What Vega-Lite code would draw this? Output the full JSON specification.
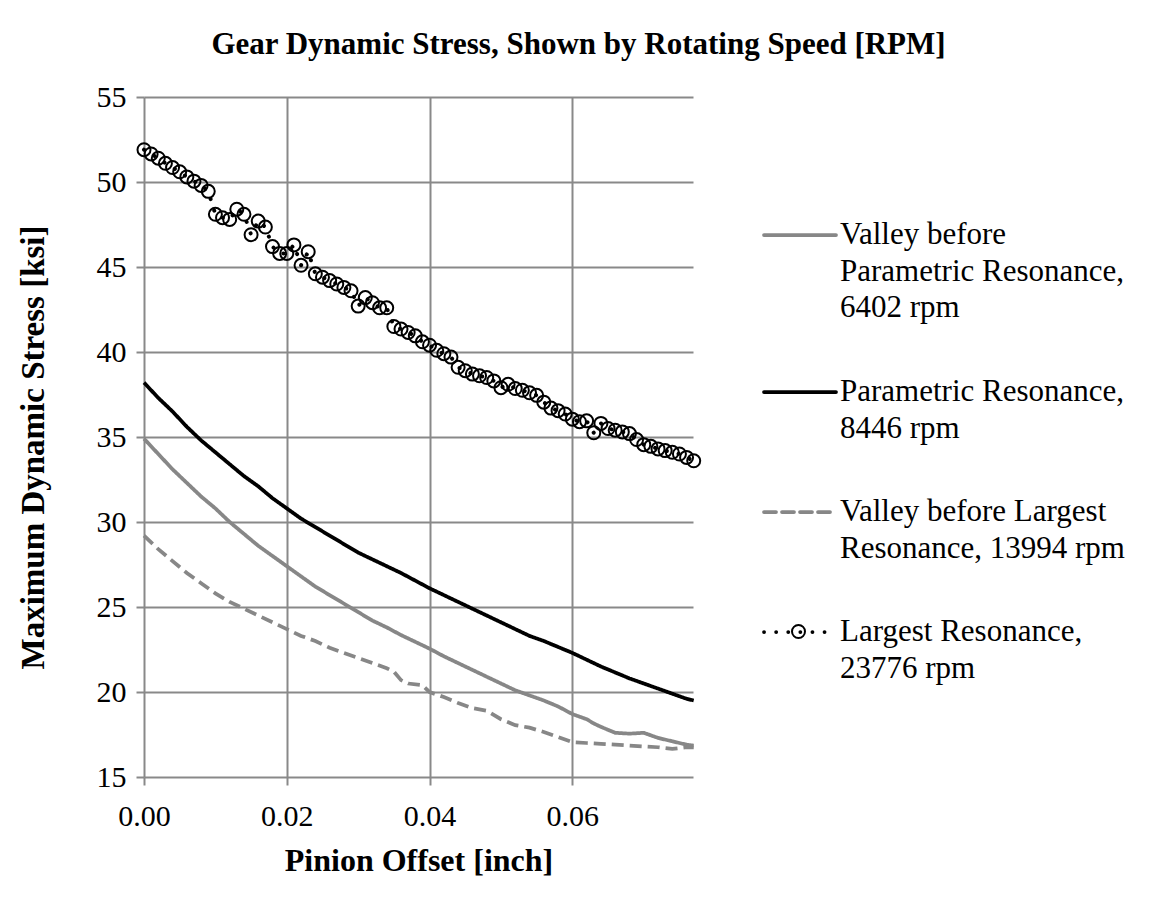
{
  "$schema": "https://vega.github.io/schema/vega-lite/v6.json",
  "autosize": "none",
  "width": 549,
  "height": 680,
  "padding": {"left": 144, "top": 97, "right": 461, "bottom": 130},
  "background": "white",
  "title": {
    "text": "Gear Dynamic Stress, Shown by Rotating Speed [RPM]",
    "font": "Liberation Serif",
    "fontSize": 31,
    "fontWeight": "bold",
    "color": "black",
    "anchor": "middle",
    "dx": 160,
    "offset": 21
  },
  "config": {
    "view": {"stroke": null},
    "axis": {
      "labelFont": "Liberation Serif",
      "labelFontSize": 30,
      "labelColor": "black",
      "titleFont": "Liberation Serif",
      "titleFontSize": 32,
      "titleFontWeight": "bold",
      "titleColor": "black",
      "gridColor": "#898989",
      "gridWidth": 2,
      "gridOpacity": 1,
      "tickColor": "#898989",
      "tickWidth": 2,
      "tickSize": 8,
      "domain": false
    }
  },
  "datasets": {
    "lines": [
      {"series": "Valley before Parametric Resonance, 6402 rpm", "x": 0.000, "y": 34.9},
      {"series": "Valley before Parametric Resonance, 6402 rpm", "x": 0.002, "y": 34.0},
      {"series": "Valley before Parametric Resonance, 6402 rpm", "x": 0.004, "y": 33.1},
      {"series": "Valley before Parametric Resonance, 6402 rpm", "x": 0.006, "y": 32.3},
      {"series": "Valley before Parametric Resonance, 6402 rpm", "x": 0.008, "y": 31.5},
      {"series": "Valley before Parametric Resonance, 6402 rpm", "x": 0.010, "y": 30.8},
      {"series": "Valley before Parametric Resonance, 6402 rpm", "x": 0.012, "y": 30.0},
      {"series": "Valley before Parametric Resonance, 6402 rpm", "x": 0.014, "y": 29.3},
      {"series": "Valley before Parametric Resonance, 6402 rpm", "x": 0.016, "y": 28.6},
      {"series": "Valley before Parametric Resonance, 6402 rpm", "x": 0.018, "y": 28.0},
      {"series": "Valley before Parametric Resonance, 6402 rpm", "x": 0.020, "y": 27.4},
      {"series": "Valley before Parametric Resonance, 6402 rpm", "x": 0.022, "y": 26.8},
      {"series": "Valley before Parametric Resonance, 6402 rpm", "x": 0.024, "y": 26.2},
      {"series": "Valley before Parametric Resonance, 6402 rpm", "x": 0.026, "y": 25.7},
      {"series": "Valley before Parametric Resonance, 6402 rpm", "x": 0.028, "y": 25.2},
      {"series": "Valley before Parametric Resonance, 6402 rpm", "x": 0.030, "y": 24.7},
      {"series": "Valley before Parametric Resonance, 6402 rpm", "x": 0.032, "y": 24.2},
      {"series": "Valley before Parametric Resonance, 6402 rpm", "x": 0.034, "y": 23.8},
      {"series": "Valley before Parametric Resonance, 6402 rpm", "x": 0.036, "y": 23.35},
      {"series": "Valley before Parametric Resonance, 6402 rpm", "x": 0.038, "y": 22.95},
      {"series": "Valley before Parametric Resonance, 6402 rpm", "x": 0.040, "y": 22.55},
      {"series": "Valley before Parametric Resonance, 6402 rpm", "x": 0.042, "y": 22.1},
      {"series": "Valley before Parametric Resonance, 6402 rpm", "x": 0.044, "y": 21.7},
      {"series": "Valley before Parametric Resonance, 6402 rpm", "x": 0.046, "y": 21.3},
      {"series": "Valley before Parametric Resonance, 6402 rpm", "x": 0.048, "y": 20.9},
      {"series": "Valley before Parametric Resonance, 6402 rpm", "x": 0.050, "y": 20.5},
      {"series": "Valley before Parametric Resonance, 6402 rpm", "x": 0.052, "y": 20.1},
      {"series": "Valley before Parametric Resonance, 6402 rpm", "x": 0.054, "y": 19.8},
      {"series": "Valley before Parametric Resonance, 6402 rpm", "x": 0.056, "y": 19.5},
      {"series": "Valley before Parametric Resonance, 6402 rpm", "x": 0.058, "y": 19.15},
      {"series": "Valley before Parametric Resonance, 6402 rpm", "x": 0.060, "y": 18.7},
      {"series": "Valley before Parametric Resonance, 6402 rpm", "x": 0.062, "y": 18.4},
      {"series": "Valley before Parametric Resonance, 6402 rpm", "x": 0.063, "y": 18.15},
      {"series": "Valley before Parametric Resonance, 6402 rpm", "x": 0.064, "y": 17.95},
      {"series": "Valley before Parametric Resonance, 6402 rpm", "x": 0.066, "y": 17.6},
      {"series": "Valley before Parametric Resonance, 6402 rpm", "x": 0.068, "y": 17.55},
      {"series": "Valley before Parametric Resonance, 6402 rpm", "x": 0.070, "y": 17.6},
      {"series": "Valley before Parametric Resonance, 6402 rpm", "x": 0.072, "y": 17.3},
      {"series": "Valley before Parametric Resonance, 6402 rpm", "x": 0.074, "y": 17.1},
      {"series": "Valley before Parametric Resonance, 6402 rpm", "x": 0.076, "y": 16.9},
      {"series": "Valley before Parametric Resonance, 6402 rpm", "x": 0.077, "y": 16.85},

      {"series": "Parametric Resonance, 8446 rpm", "x": 0.000, "y": 38.2},
      {"series": "Parametric Resonance, 8446 rpm", "x": 0.002, "y": 37.3},
      {"series": "Parametric Resonance, 8446 rpm", "x": 0.004, "y": 36.5},
      {"series": "Parametric Resonance, 8446 rpm", "x": 0.006, "y": 35.6},
      {"series": "Parametric Resonance, 8446 rpm", "x": 0.008, "y": 34.8},
      {"series": "Parametric Resonance, 8446 rpm", "x": 0.010, "y": 34.1},
      {"series": "Parametric Resonance, 8446 rpm", "x": 0.012, "y": 33.4},
      {"series": "Parametric Resonance, 8446 rpm", "x": 0.014, "y": 32.7},
      {"series": "Parametric Resonance, 8446 rpm", "x": 0.016, "y": 32.1},
      {"series": "Parametric Resonance, 8446 rpm", "x": 0.018, "y": 31.4},
      {"series": "Parametric Resonance, 8446 rpm", "x": 0.020, "y": 30.8},
      {"series": "Parametric Resonance, 8446 rpm", "x": 0.022, "y": 30.2},
      {"series": "Parametric Resonance, 8446 rpm", "x": 0.024, "y": 29.7},
      {"series": "Parametric Resonance, 8446 rpm", "x": 0.026, "y": 29.2},
      {"series": "Parametric Resonance, 8446 rpm", "x": 0.028, "y": 28.7},
      {"series": "Parametric Resonance, 8446 rpm", "x": 0.030, "y": 28.2},
      {"series": "Parametric Resonance, 8446 rpm", "x": 0.032, "y": 27.8},
      {"series": "Parametric Resonance, 8446 rpm", "x": 0.034, "y": 27.4},
      {"series": "Parametric Resonance, 8446 rpm", "x": 0.036, "y": 27.0},
      {"series": "Parametric Resonance, 8446 rpm", "x": 0.038, "y": 26.55},
      {"series": "Parametric Resonance, 8446 rpm", "x": 0.040, "y": 26.1},
      {"series": "Parametric Resonance, 8446 rpm", "x": 0.042, "y": 25.7},
      {"series": "Parametric Resonance, 8446 rpm", "x": 0.044, "y": 25.3},
      {"series": "Parametric Resonance, 8446 rpm", "x": 0.046, "y": 24.9},
      {"series": "Parametric Resonance, 8446 rpm", "x": 0.048, "y": 24.5},
      {"series": "Parametric Resonance, 8446 rpm", "x": 0.050, "y": 24.1},
      {"series": "Parametric Resonance, 8446 rpm", "x": 0.052, "y": 23.7},
      {"series": "Parametric Resonance, 8446 rpm", "x": 0.054, "y": 23.3},
      {"series": "Parametric Resonance, 8446 rpm", "x": 0.056, "y": 23.0},
      {"series": "Parametric Resonance, 8446 rpm", "x": 0.058, "y": 22.65},
      {"series": "Parametric Resonance, 8446 rpm", "x": 0.060, "y": 22.3},
      {"series": "Parametric Resonance, 8446 rpm", "x": 0.062, "y": 21.9},
      {"series": "Parametric Resonance, 8446 rpm", "x": 0.064, "y": 21.5},
      {"series": "Parametric Resonance, 8446 rpm", "x": 0.066, "y": 21.15},
      {"series": "Parametric Resonance, 8446 rpm", "x": 0.068, "y": 20.8},
      {"series": "Parametric Resonance, 8446 rpm", "x": 0.070, "y": 20.5},
      {"series": "Parametric Resonance, 8446 rpm", "x": 0.072, "y": 20.2},
      {"series": "Parametric Resonance, 8446 rpm", "x": 0.074, "y": 19.9},
      {"series": "Parametric Resonance, 8446 rpm", "x": 0.076, "y": 19.6},
      {"series": "Parametric Resonance, 8446 rpm", "x": 0.077, "y": 19.5},

      {"series": "Valley before Largest Resonance, 13994 rpm", "x": 0.000, "y": 29.2},
      {"series": "Valley before Largest Resonance, 13994 rpm", "x": 0.002, "y": 28.4},
      {"series": "Valley before Largest Resonance, 13994 rpm", "x": 0.004, "y": 27.7},
      {"series": "Valley before Largest Resonance, 13994 rpm", "x": 0.006, "y": 27.0},
      {"series": "Valley before Largest Resonance, 13994 rpm", "x": 0.008, "y": 26.4},
      {"series": "Valley before Largest Resonance, 13994 rpm", "x": 0.010, "y": 25.8},
      {"series": "Valley before Largest Resonance, 13994 rpm", "x": 0.012, "y": 25.3},
      {"series": "Valley before Largest Resonance, 13994 rpm", "x": 0.014, "y": 24.9},
      {"series": "Valley before Largest Resonance, 13994 rpm", "x": 0.016, "y": 24.5},
      {"series": "Valley before Largest Resonance, 13994 rpm", "x": 0.018, "y": 24.1},
      {"series": "Valley before Largest Resonance, 13994 rpm", "x": 0.020, "y": 23.7},
      {"series": "Valley before Largest Resonance, 13994 rpm", "x": 0.022, "y": 23.3},
      {"series": "Valley before Largest Resonance, 13994 rpm", "x": 0.024, "y": 23.0},
      {"series": "Valley before Largest Resonance, 13994 rpm", "x": 0.026, "y": 22.6},
      {"series": "Valley before Largest Resonance, 13994 rpm", "x": 0.028, "y": 22.3},
      {"series": "Valley before Largest Resonance, 13994 rpm", "x": 0.030, "y": 22.0},
      {"series": "Valley before Largest Resonance, 13994 rpm", "x": 0.032, "y": 21.7},
      {"series": "Valley before Largest Resonance, 13994 rpm", "x": 0.034, "y": 21.4},
      {"series": "Valley before Largest Resonance, 13994 rpm", "x": 0.035, "y": 21.2},
      {"series": "Valley before Largest Resonance, 13994 rpm", "x": 0.036, "y": 20.7},
      {"series": "Valley before Largest Resonance, 13994 rpm", "x": 0.037, "y": 20.5},
      {"series": "Valley before Largest Resonance, 13994 rpm", "x": 0.039, "y": 20.4},
      {"series": "Valley before Largest Resonance, 13994 rpm", "x": 0.040, "y": 20.0},
      {"series": "Valley before Largest Resonance, 13994 rpm", "x": 0.042, "y": 19.7},
      {"series": "Valley before Largest Resonance, 13994 rpm", "x": 0.044, "y": 19.35},
      {"series": "Valley before Largest Resonance, 13994 rpm", "x": 0.046, "y": 19.05},
      {"series": "Valley before Largest Resonance, 13994 rpm", "x": 0.048, "y": 18.9},
      {"series": "Valley before Largest Resonance, 13994 rpm", "x": 0.050, "y": 18.4},
      {"series": "Valley before Largest Resonance, 13994 rpm", "x": 0.052, "y": 18.05},
      {"series": "Valley before Largest Resonance, 13994 rpm", "x": 0.054, "y": 17.9},
      {"series": "Valley before Largest Resonance, 13994 rpm", "x": 0.056, "y": 17.65},
      {"series": "Valley before Largest Resonance, 13994 rpm", "x": 0.058, "y": 17.35},
      {"series": "Valley before Largest Resonance, 13994 rpm", "x": 0.060, "y": 17.05},
      {"series": "Valley before Largest Resonance, 13994 rpm", "x": 0.062, "y": 17.0},
      {"series": "Valley before Largest Resonance, 13994 rpm", "x": 0.064, "y": 16.95},
      {"series": "Valley before Largest Resonance, 13994 rpm", "x": 0.066, "y": 16.9},
      {"series": "Valley before Largest Resonance, 13994 rpm", "x": 0.068, "y": 16.85},
      {"series": "Valley before Largest Resonance, 13994 rpm", "x": 0.070, "y": 16.8},
      {"series": "Valley before Largest Resonance, 13994 rpm", "x": 0.072, "y": 16.75},
      {"series": "Valley before Largest Resonance, 13994 rpm", "x": 0.074, "y": 16.65},
      {"series": "Valley before Largest Resonance, 13994 rpm", "x": 0.076, "y": 16.75},
      {"series": "Valley before Largest Resonance, 13994 rpm", "x": 0.077, "y": 16.75}
    ],
    "largest": [
      {"series": "Largest Resonance, 23776 rpm", "x": 0.000, "y": 51.9},
      {"series": "Largest Resonance, 23776 rpm", "x": 0.001, "y": 51.65},
      {"series": "Largest Resonance, 23776 rpm", "x": 0.002, "y": 51.4},
      {"series": "Largest Resonance, 23776 rpm", "x": 0.003, "y": 51.1},
      {"series": "Largest Resonance, 23776 rpm", "x": 0.004, "y": 50.85},
      {"series": "Largest Resonance, 23776 rpm", "x": 0.005, "y": 50.6},
      {"series": "Largest Resonance, 23776 rpm", "x": 0.006, "y": 50.3},
      {"series": "Largest Resonance, 23776 rpm", "x": 0.007, "y": 50.05},
      {"series": "Largest Resonance, 23776 rpm", "x": 0.008, "y": 49.8},
      {"series": "Largest Resonance, 23776 rpm", "x": 0.009, "y": 49.45},
      {"series": "Largest Resonance, 23776 rpm", "x": 0.010, "y": 48.1},
      {"series": "Largest Resonance, 23776 rpm", "x": 0.011, "y": 47.9},
      {"series": "Largest Resonance, 23776 rpm", "x": 0.012, "y": 47.8},
      {"series": "Largest Resonance, 23776 rpm", "x": 0.013, "y": 48.4},
      {"series": "Largest Resonance, 23776 rpm", "x": 0.014, "y": 48.1},
      {"series": "Largest Resonance, 23776 rpm", "x": 0.015, "y": 46.9},
      {"series": "Largest Resonance, 23776 rpm", "x": 0.016, "y": 47.7},
      {"series": "Largest Resonance, 23776 rpm", "x": 0.017, "y": 47.35},
      {"series": "Largest Resonance, 23776 rpm", "x": 0.018, "y": 46.2},
      {"series": "Largest Resonance, 23776 rpm", "x": 0.019, "y": 45.8},
      {"series": "Largest Resonance, 23776 rpm", "x": 0.020, "y": 45.8},
      {"series": "Largest Resonance, 23776 rpm", "x": 0.021, "y": 46.3},
      {"series": "Largest Resonance, 23776 rpm", "x": 0.022, "y": 45.1},
      {"series": "Largest Resonance, 23776 rpm", "x": 0.023, "y": 45.9},
      {"series": "Largest Resonance, 23776 rpm", "x": 0.024, "y": 44.6},
      {"series": "Largest Resonance, 23776 rpm", "x": 0.025, "y": 44.4},
      {"series": "Largest Resonance, 23776 rpm", "x": 0.026, "y": 44.2},
      {"series": "Largest Resonance, 23776 rpm", "x": 0.027, "y": 44.0},
      {"series": "Largest Resonance, 23776 rpm", "x": 0.028, "y": 43.8},
      {"series": "Largest Resonance, 23776 rpm", "x": 0.029, "y": 43.6},
      {"series": "Largest Resonance, 23776 rpm", "x": 0.030, "y": 42.7},
      {"series": "Largest Resonance, 23776 rpm", "x": 0.031, "y": 43.2},
      {"series": "Largest Resonance, 23776 rpm", "x": 0.032, "y": 42.9},
      {"series": "Largest Resonance, 23776 rpm", "x": 0.033, "y": 42.6},
      {"series": "Largest Resonance, 23776 rpm", "x": 0.034, "y": 42.6},
      {"series": "Largest Resonance, 23776 rpm", "x": 0.035, "y": 41.5},
      {"series": "Largest Resonance, 23776 rpm", "x": 0.036, "y": 41.35},
      {"series": "Largest Resonance, 23776 rpm", "x": 0.037, "y": 41.15},
      {"series": "Largest Resonance, 23776 rpm", "x": 0.038, "y": 40.95},
      {"series": "Largest Resonance, 23776 rpm", "x": 0.039, "y": 40.6},
      {"series": "Largest Resonance, 23776 rpm", "x": 0.040, "y": 40.4},
      {"series": "Largest Resonance, 23776 rpm", "x": 0.041, "y": 40.1},
      {"series": "Largest Resonance, 23776 rpm", "x": 0.042, "y": 39.9},
      {"series": "Largest Resonance, 23776 rpm", "x": 0.043, "y": 39.7},
      {"series": "Largest Resonance, 23776 rpm", "x": 0.044, "y": 39.1},
      {"series": "Largest Resonance, 23776 rpm", "x": 0.045, "y": 38.9},
      {"series": "Largest Resonance, 23776 rpm", "x": 0.046, "y": 38.7},
      {"series": "Largest Resonance, 23776 rpm", "x": 0.047, "y": 38.6},
      {"series": "Largest Resonance, 23776 rpm", "x": 0.048, "y": 38.5},
      {"series": "Largest Resonance, 23776 rpm", "x": 0.049, "y": 38.3},
      {"series": "Largest Resonance, 23776 rpm", "x": 0.050, "y": 37.9},
      {"series": "Largest Resonance, 23776 rpm", "x": 0.051, "y": 38.1},
      {"series": "Largest Resonance, 23776 rpm", "x": 0.052, "y": 37.85},
      {"series": "Largest Resonance, 23776 rpm", "x": 0.053, "y": 37.75},
      {"series": "Largest Resonance, 23776 rpm", "x": 0.054, "y": 37.6},
      {"series": "Largest Resonance, 23776 rpm", "x": 0.055, "y": 37.45},
      {"series": "Largest Resonance, 23776 rpm", "x": 0.056, "y": 37.05},
      {"series": "Largest Resonance, 23776 rpm", "x": 0.057, "y": 36.7},
      {"series": "Largest Resonance, 23776 rpm", "x": 0.058, "y": 36.55},
      {"series": "Largest Resonance, 23776 rpm", "x": 0.059, "y": 36.35},
      {"series": "Largest Resonance, 23776 rpm", "x": 0.060, "y": 36.05},
      {"series": "Largest Resonance, 23776 rpm", "x": 0.061, "y": 35.9},
      {"series": "Largest Resonance, 23776 rpm", "x": 0.062, "y": 35.95},
      {"series": "Largest Resonance, 23776 rpm", "x": 0.063, "y": 35.25},
      {"series": "Largest Resonance, 23776 rpm", "x": 0.064, "y": 35.8},
      {"series": "Largest Resonance, 23776 rpm", "x": 0.065, "y": 35.5},
      {"series": "Largest Resonance, 23776 rpm", "x": 0.066, "y": 35.4},
      {"series": "Largest Resonance, 23776 rpm", "x": 0.067, "y": 35.3},
      {"series": "Largest Resonance, 23776 rpm", "x": 0.068, "y": 35.2},
      {"series": "Largest Resonance, 23776 rpm", "x": 0.069, "y": 34.85},
      {"series": "Largest Resonance, 23776 rpm", "x": 0.070, "y": 34.55},
      {"series": "Largest Resonance, 23776 rpm", "x": 0.071, "y": 34.45},
      {"series": "Largest Resonance, 23776 rpm", "x": 0.072, "y": 34.3},
      {"series": "Largest Resonance, 23776 rpm", "x": 0.073, "y": 34.2},
      {"series": "Largest Resonance, 23776 rpm", "x": 0.074, "y": 34.1},
      {"series": "Largest Resonance, 23776 rpm", "x": 0.075, "y": 34.0},
      {"series": "Largest Resonance, 23776 rpm", "x": 0.076, "y": 33.8},
      {"series": "Largest Resonance, 23776 rpm", "x": 0.077, "y": 33.6}
    ]
  },
  "encoding": {
    "x": {
      "field": "x",
      "type": "quantitative",
      "scale": {"domain": [0, 0.0769], "nice": false, "zero": false},
      "axis": {
        "title": "Pinion Offset [inch]",
        "values": [0, 0.02, 0.04, 0.06],
        "format": ".2f",
        "labelPadding": 16,
        "titlePadding": 14,
        "labelFlush": false
      }
    },
    "y": {
      "field": "y",
      "type": "quantitative",
      "scale": {"domain": [15, 55], "nice": false, "zero": false},
      "axis": {
        "title": "Maximum Dynamic Stress [ksi]",
        "titleFontSize": 33,
        "values": [15, 20, 25, 30, 35, 40, 45, 50, 55],
        "labelPadding": 10,
        "titlePadding": 46,
        "titleY": 350
      }
    }
  },
  "layer": [
    {
      "data": {"name": "lines"},
      "mark": {"type": "line", "strokeWidth": 3.75, "strokeCap": "butt"},
      "encoding": {
        "color": {
          "field": "series",
          "type": "nominal",
          "scale": {
            "domain": ["Valley before Parametric Resonance, 6402 rpm", "Parametric Resonance, 8446 rpm", "Valley before Largest Resonance, 13994 rpm", "Largest Resonance, 23776 rpm"],
            "range": ["#878787", "#000000", "#878787", "#000000"]
          },
          "legend": {
            "orient": "none",
            "legendX": 618,
            "legendY": 100,
            "title": null,
            "padding": 0,
            "symbolType": "stroke",
            "symbolSize": 5184,
            "symbolStrokeWidth": 3.75,
            "labelFont": "Liberation Serif",
            "labelFontSize": 31,
            "labelColor": "black",
            "labelLimit": 0,
            "labelOffset": 2,
            "rowPadding": 30,
            "labelExpr": "datum.label == 'Valley before Parametric Resonance, 6402 rpm' ? ['Valley before', 'Parametric Resonance,', '6402 rpm'] : datum.label == 'Parametric Resonance, 8446 rpm' ? ['Parametric Resonance,', '8446 rpm'] : datum.label == 'Valley before Largest Resonance, 13994 rpm' ? ['Valley before Largest', 'Resonance, 13994 rpm'] : ['Largest Resonance,', '23776 rpm']",
            "encode": {
              "labels": {"update": {"lineHeight": {"value": 36.7}}},
              "symbols": {"update": {"strokeCap": {"value": "round"}}}
            }
          }
        },
        "strokeDash": {
          "field": "series",
          "type": "nominal",
          "scale": {
            "domain": ["Valley before Parametric Resonance, 6402 rpm", "Parametric Resonance, 8446 rpm", "Valley before Largest Resonance, 13994 rpm", "Largest Resonance, 23776 rpm"],
            "range": [[1, 0], [1, 0], [12, 6], [0.1, 12]]
          }
        }
      }
    },
    {
      "data": {"name": "largest"},
      "mark": {"type": "line", "strokeWidth": 4, "strokeCap": "round"},
      "encoding": {
        "color": {"field": "series", "type": "nominal"},
        "strokeDash": {"field": "series", "type": "nominal"}
      }
    },
    {
      "data": {"name": "largest"},
      "mark": {"type": "point", "filled": false, "size": 169, "strokeWidth": 2, "color": "black", "opacity": 1},
      "encoding": {
        "shape": {
          "field": "series",
          "type": "nominal",
          "scale": {"domain": ["Largest Resonance, 23776 rpm"], "range": ["circle"]},
          "legend": {
            "orient": "none",
            "legendX": 647,
            "legendY": 527,
            "title": null,
            "padding": 0,
            "symbolSize": 169,
            "symbolStrokeWidth": 2,
            "symbolStrokeColor": "black",
            "symbolFillColor": "transparent",
            "labelExpr": "''",
            "labelOffset": 0
          }
        }
      }
    }
  ]
}
